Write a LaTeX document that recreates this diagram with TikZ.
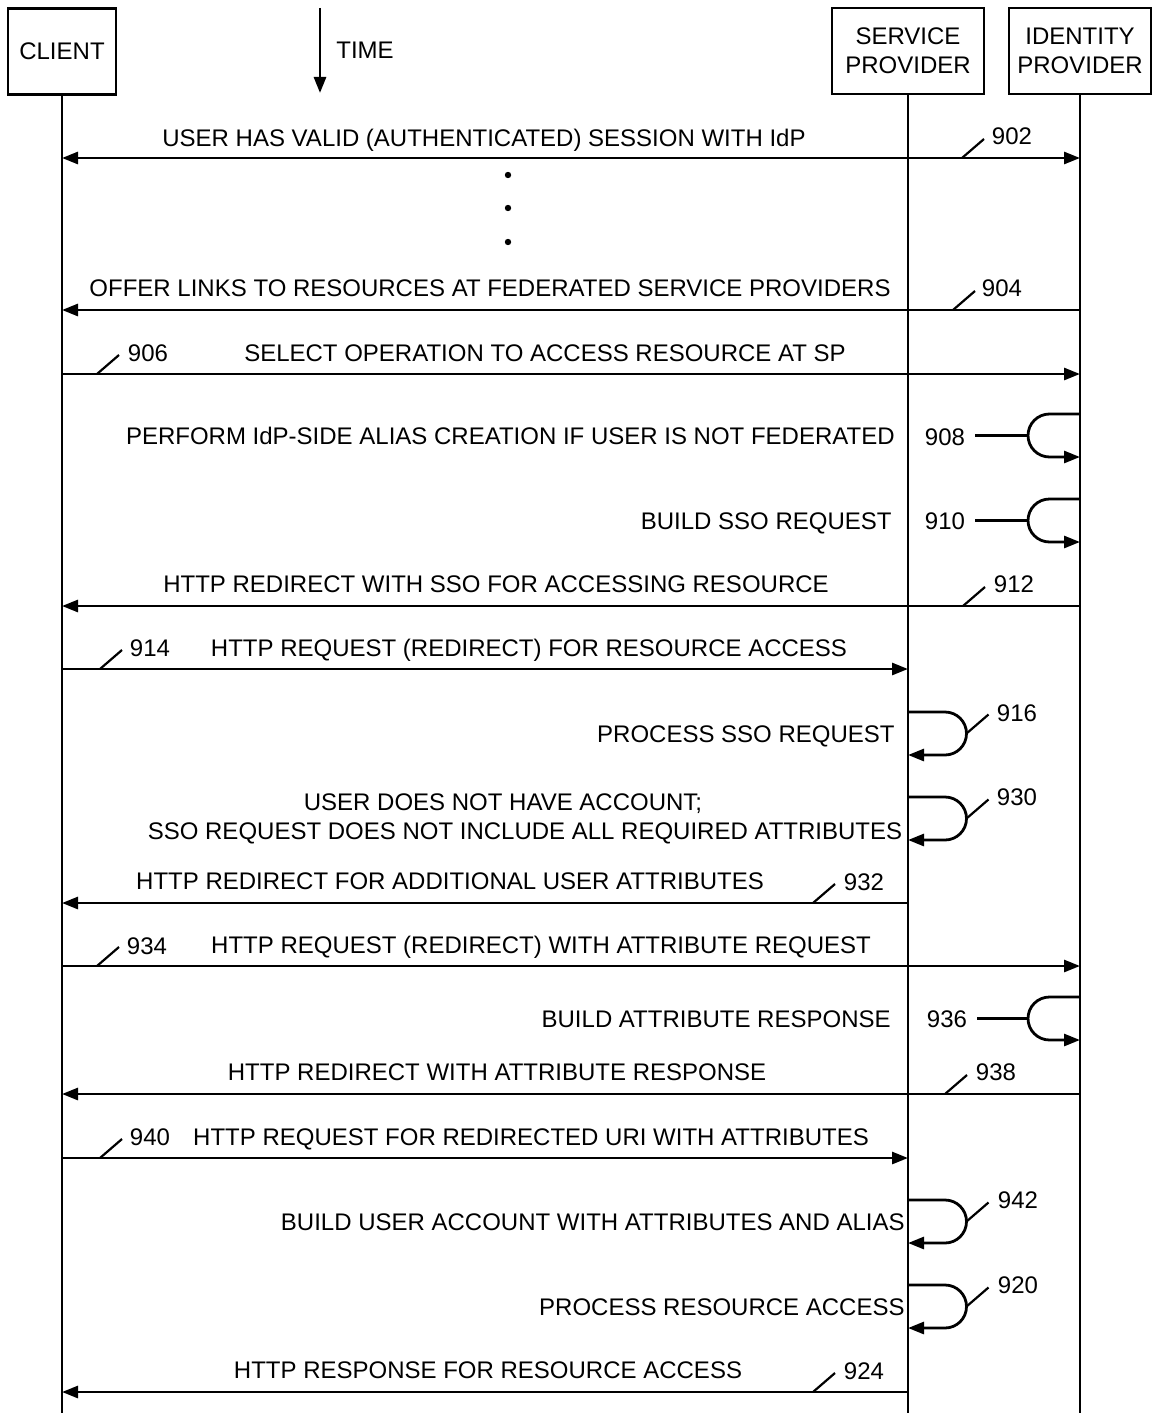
\documentclass[tikz,border=0pt]{standalone}
\usepackage{fontspec}
\setmainfont{Liberation Sans}
\usetikzlibrary{arrows.meta,positioning,calc}

\begin{document}
\begin{tikzpicture}[x=0.5pt, y=-0.5pt,
    every node/.style={font=\fontsize{12}{14.5}\selectfont},
    actor/.style={draw, line width=1.1pt, minimum width=#1, minimum height=43pt,
                  align=center, inner sep=0pt},
    life/.style={line width=1.4pt},
    msg/.style={line width=1.4pt, -{Triangle[length=8pt,width=6pt]}},
    dmsg/.style={line width=1.4pt, {Triangle[length=8pt,width=6pt]}-{Triangle[length=8pt,width=6pt]}},
    tick/.style={line width=1.1pt},
    lbl/.style={anchor=base, inner sep=0pt},
    rlbl/.style={anchor=base east, inner sep=0pt},
    num/.style={anchor=base, inner sep=0pt}]

    \useasboundingbox (0,0) rectangle (1152,1413);

    % actors and lifelines
    \node[actor=54pt] (client) at (62,51.5) {CLIENT};
    \node[actor=76pt] (sp)     at (908,51)  {SERVICE\\PROVIDER};
    \node[actor=71pt] (idp)    at (1080,51) {IDENTITY\\PROVIDER};
    \coordinate (bottom) at (0,1413);

    \draw[life] (client.south) -- (client.south |- bottom);
    \draw[life] (sp.south)     -- (sp.south |- bottom);
    \draw[life] (idp.south)    -- (idp.south |- bottom);

    % time arrow
    \coordinate (t0) at (320,8);
    \coordinate (t1) at (320,93);
    \draw[msg] (t0) -- (t1);
    \node[anchor=west, inner sep=0pt] (time) at (336,50) {TIME};

    % message levels
    \foreach \n/\y in {902/158, 904/310, 906/374, 912/606, 914/669,
                       932/903, 934/966, 938/1094, 940/1158, 924/1392}
      \coordinate (y\n) at (0,\y);

    % loop levels (top)
    \foreach \n/\y in {908/414, 910/499, 916/712, 930/797, 936/997, 942/1200, 920/1285}
    {
      \coordinate (a\n) at (0,\y);
      \coordinate (b\n) at (0,\y+43);
    }

    % messages
    \draw[dmsg] (client |- y902) -- (idp |- y902);
    \node[lbl] (l902) at (484,147) {USER HAS VALID (AUTHENTICATED) SESSION WITH IdP};

    \fill (508,175) circle[radius=1.6pt];
    \fill (508,208) circle[radius=1.6pt];
    \fill (508,242) circle[radius=1.6pt];

    \draw[msg] (idp |- y904) -- (client |- y904);
    \node[lbl] (l904) at (490,296) {OFFER LINKS TO RESOURCES AT FEDERATED SERVICE PROVIDERS};

    \draw[msg] (client |- y906) -- (idp |- y906);
    \node[lbl] (l906) at (545,361) {SELECT OPERATION TO ACCESS RESOURCE AT SP};

    \draw[msg] (idp |- a908) -- ++(-30.5,0) arc[start angle=90, end angle=180, radius=10.75pt]
      coordinate (k908) arc[start angle=180, end angle=270, radius=10.75pt] -- (idp |- b908);
    \node[rlbl] (l908) at (895,444) {PERFORM IdP-SIDE ALIAS CREATION IF USER IS NOT FEDERATED};

    \draw[msg] (idp |- a910) -- ++(-30.5,0) arc[start angle=90, end angle=180, radius=10.75pt]
      coordinate (k910) arc[start angle=180, end angle=270, radius=10.75pt] -- (idp |- b910);
    \node[rlbl] (l910) at (892,529) {BUILD SSO REQUEST};

    \draw[msg] (idp |- y912) -- (client |- y912);
    \node[lbl] (l912) at (496,592) {HTTP REDIRECT WITH SSO FOR ACCESSING RESOURCE};

    \draw[msg] (client |- y914) -- (sp |- y914);
    \node[lbl] (l914) at (529,656) {HTTP REQUEST (REDIRECT) FOR RESOURCE ACCESS};

    \draw[msg] (sp |- a916) -- ++(37,0) arc[start angle=90, end angle=0, radius=10.75pt]
      coordinate (k916) arc[start angle=0, end angle=-90, radius=10.75pt] -- (sp |- b916);
    \node[rlbl] (l916) at (895,742) {PROCESS SSO REQUEST};

    \draw[msg] (sp |- a930) -- ++(37,0) arc[start angle=90, end angle=0, radius=10.75pt]
      coordinate (k930) arc[start angle=0, end angle=-90, radius=10.75pt] -- (sp |- b930);
    \node[align=center, inner sep=0pt] (l930) at (525,819)
      {USER DOES NOT HAVE ACCOUNT;\hspace*{22pt}\\SSO REQUEST DOES NOT INCLUDE ALL REQUIRED ATTRIBUTES};

    \draw[msg] (sp |- y932) -- (client |- y932);
    \node[lbl] (l932) at (450,889) {HTTP REDIRECT FOR ADDITIONAL USER ATTRIBUTES};

    \draw[msg] (client |- y934) -- (idp |- y934);
    \node[lbl] (l934) at (541,953) {HTTP REQUEST (REDIRECT) WITH ATTRIBUTE REQUEST};

    \draw[msg] (idp |- a936) -- ++(-30.5,0) arc[start angle=90, end angle=180, radius=10.75pt]
      coordinate (k936) arc[start angle=180, end angle=270, radius=10.75pt] -- (idp |- b936);
    \node[rlbl] (l936) at (891,1027) {BUILD ATTRIBUTE RESPONSE};

    \draw[msg] (idp |- y938) -- (client |- y938);
    \node[lbl] (l938) at (497,1080) {HTTP REDIRECT WITH ATTRIBUTE RESPONSE};

    \draw[msg] (client |- y940) -- (sp |- y940);
    \node[lbl] (l940) at (531,1145) {HTTP REQUEST FOR REDIRECTED URI WITH ATTRIBUTES};

    \draw[msg] (sp |- a942) -- ++(37,0) arc[start angle=90, end angle=0, radius=10.75pt]
      coordinate (k942) arc[start angle=0, end angle=-90, radius=10.75pt] -- (sp |- b942);
    \node[rlbl] (l942) at (905,1230) {BUILD USER ACCOUNT WITH ATTRIBUTES AND ALIAS};

    \draw[msg] (sp |- a920) -- ++(37,0) arc[start angle=90, end angle=0, radius=10.75pt]
      coordinate (k920) arc[start angle=0, end angle=-90, radius=10.75pt] -- (sp |- b920);
    \node[rlbl] (l920) at (905,1315) {PROCESS RESOURCE ACCESS};

    \draw[msg] (sp |- y924) -- (client |- y924);
    \node[lbl] (l924) at (488,1378) {HTTP RESPONSE FOR RESOURCE ACCESS};

    % reference numbers
    \node[num] (n902) at (1012,144) {902};
    \node[num] (n904) at (1002,296) {904};
    \node[num] (n906) at (148,361)  {906};
    \node[num] (n908) at (945,445)  {908};
    \node[num] (n910) at (945,529)  {910};
    \node[num] (n912) at (1014,592) {912};
    \node[num] (n914) at (150,656)  {914};
    \node[num] (n916) at (1017,721) {916};
    \node[num] (n930) at (1017,805) {930};
    \node[num] (n932) at (864,890)  {932};
    \node[num] (n934) at (147,954)  {934};
    \node[num] (n936) at (947,1027) {936};
    \node[num] (n938) at (996,1080) {938};
    \node[num] (n940) at (150,1145) {940};
    \node[num] (n942) at (1018,1208) {942};
    \node[num] (n920) at (1018,1293) {920};
    \node[num] (n924) at (864,1379) {924};

    % leader ticks
    \coordinate (t902) at (962,158);
    \coordinate (t904) at (953,310);
    \coordinate (t906) at (97,374);
    \coordinate (t912) at (963,606);
    \coordinate (t914) at (100,669);
    \coordinate (t932) at (813,903);
    \coordinate (t934) at (97,966);
    \coordinate (t938) at (945,1094);
    \coordinate (t940) at (100,1158);
    \coordinate (t924) at (813,1392);
    \foreach \n in {902,904,906,912,914,932,934,938,940,924}
      \draw[tick] (t\n) -- ++(22,-19);
    \foreach \n in {916,930,942,920}
      \draw[tick] (k\n) -- ++(22,-19);
    \foreach \n in {908,910,936}
      \draw[tick] ($(n\n.east |- k\n)+(10,0)$) -- (k\n);
  \end{tikzpicture}
\end{document}
